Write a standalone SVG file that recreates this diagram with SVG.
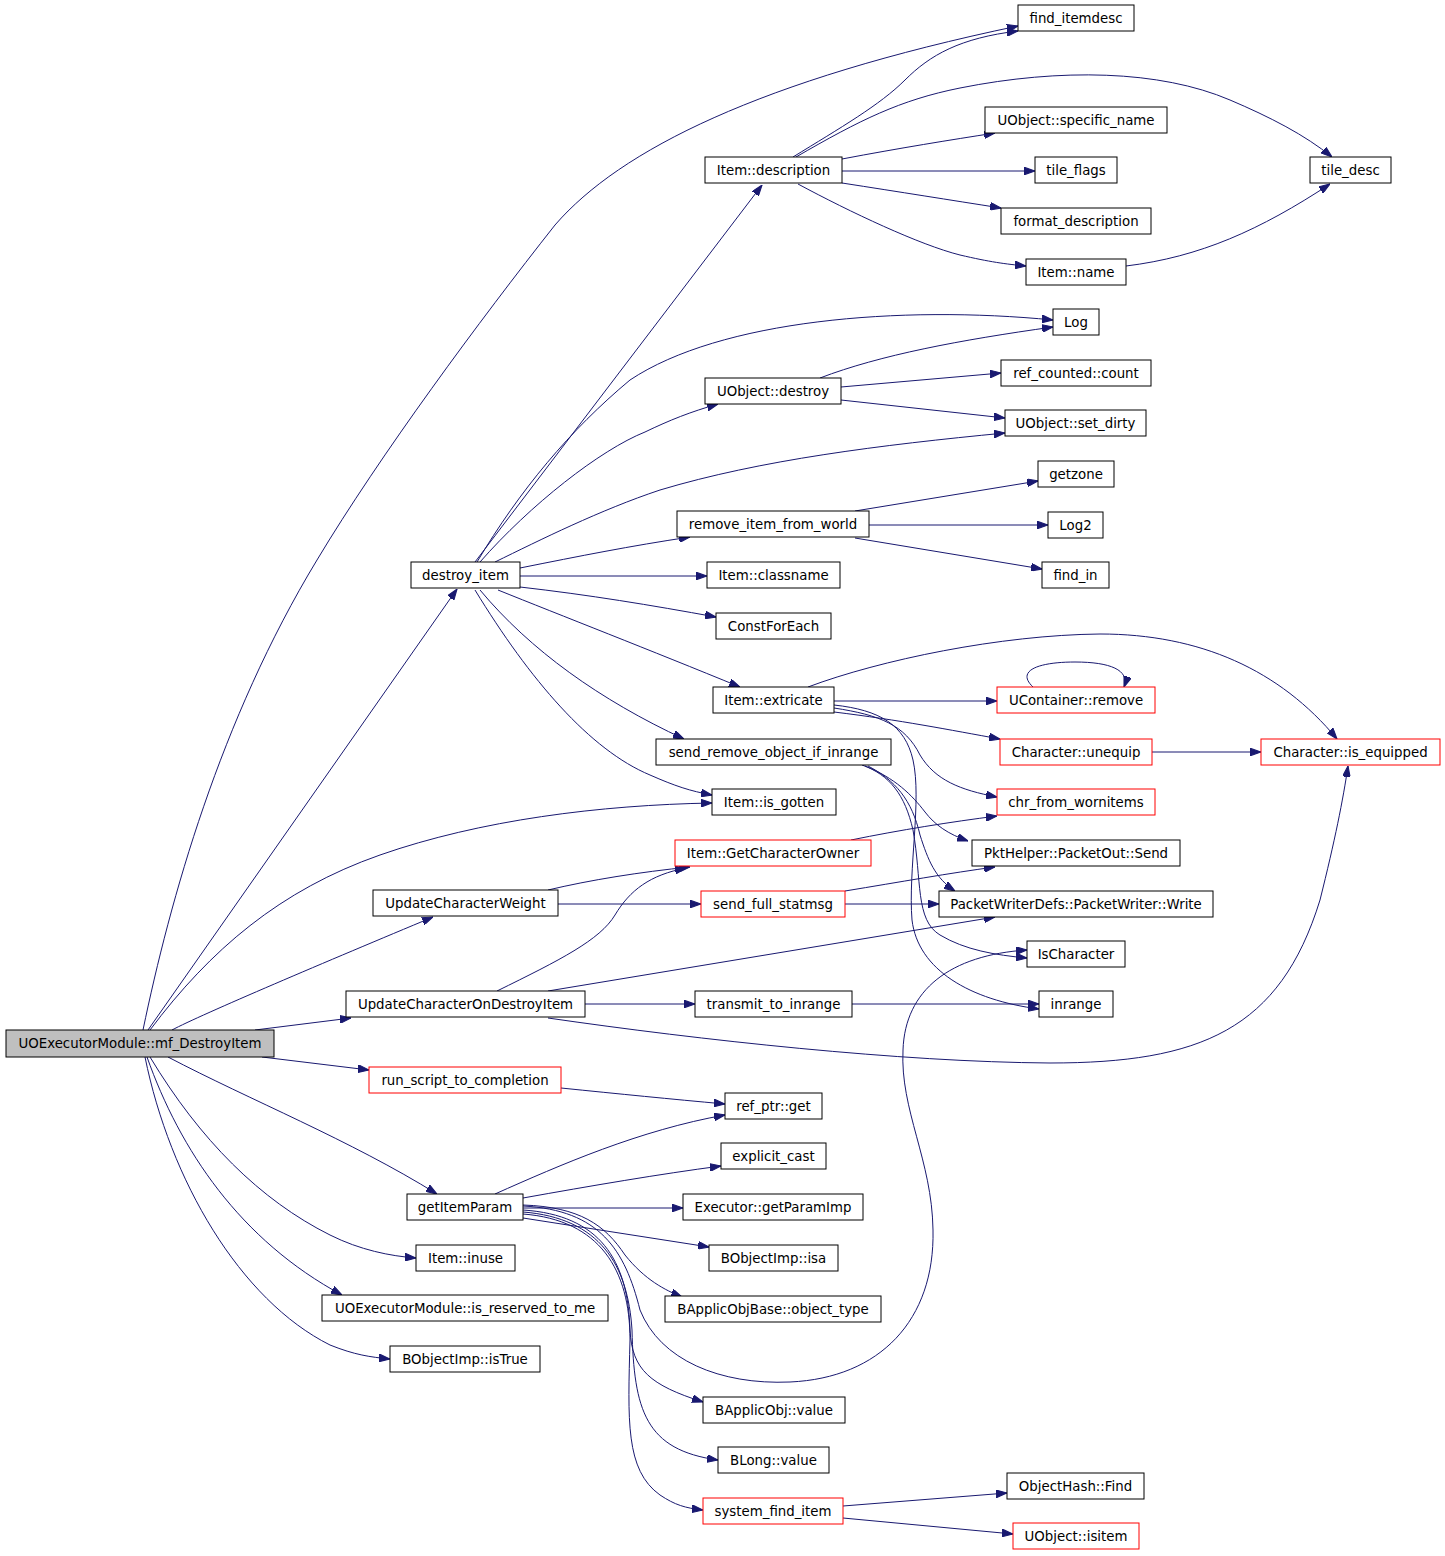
<svg xmlns="http://www.w3.org/2000/svg" width="1445" height="1556" viewBox="0 0 1445 1556">
<style>
.n rect{fill:#fff;stroke:#000;stroke-width:1}
.n.r rect{stroke:#f00}
.n.root rect{fill:#bfbfbf}
.n text{font-family:"DejaVu Sans","Liberation Sans",sans-serif;font-size:13.33px;fill:#000;text-anchor:middle}
.e path{fill:none;stroke:#191970;stroke-width:1;marker-end:url(#a)}
</style>
<defs>
<marker id="a" viewBox="0 0 10 7" refX="10" refY="3.5" markerWidth="11" markerHeight="8" markerUnits="userSpaceOnUse" orient="auto">
<path d="M0,0 L10,3.5 L0,7 z" fill="#191970" stroke="#191970"/>
</marker>
</defs>
<rect width="1445" height="1556" fill="#fff"/>
<g class="e" id="edges">
<path d="M143,1030 C170,900 220,720 317,560 C380,455 480,320 555,225 C620,150 760,80 1018,26"/>
<path d="M148,1030 L457,589"/>
<path d="M150,1030 C210,950 280,890 380,855 C480,820 600,805 712,803"/>
<path d="M172,1030 C200,1015 330,960 433,917"/>
<path d="M255,1030 L351,1018"/>
<path d="M262,1057 L369,1070"/>
<path d="M168,1057 C250,1100 350,1140 437,1194"/>
<path d="M150,1057 C200,1140 260,1200 330,1235 C360,1250 390,1256 416,1258"/>
<path d="M147,1057 C180,1150 240,1240 342,1295"/>
<path d="M145,1057 C170,1180 240,1300 330,1345 C355,1355 370,1357 390,1359"/>
<path d="M475,562 L762,185"/>
<path d="M477,562 C520,490 570,430 630,380 C720,320 900,305 1053,320"/>
<path d="M480,562 C530,505 600,450 645,432 C670,420 690,412 718,404"/>
<path d="M495,562 C540,540 600,510 660,490 C760,460 880,445 1005,433"/>
<path d="M520,568 C580,556 630,546 690,537"/>
<path d="M520,576 L707,576"/>
<path d="M520,587 C590,595 650,605 716,617"/>
<path d="M498,590 C560,615 650,650 740,687"/>
<path d="M480,590 C530,650 600,700 684,739"/>
<path d="M475,590 C530,680 590,750 650,775 C675,786 690,791 712,795"/>
<path d="M793,157 C840,128 880,105 905,80 C930,55 960,38 1018,31"/>
<path d="M796,157 C860,120 900,100 960,88 C1060,68 1160,70 1230,100 C1270,117 1305,135 1332,157"/>
<path d="M842,159 C900,148 950,140 995,133"/>
<path d="M842,171 L1035,171"/>
<path d="M842,183 C900,192 950,200 1001,208"/>
<path d="M798,184 C850,212 920,245 960,255 C990,262 1005,264 1026,266"/>
<path d="M1126,266 C1200,257 1260,230 1330,184"/>
<path d="M820,378 C880,355 960,340 1053,327"/>
<path d="M841,387 L1001,373"/>
<path d="M841,400 L1005,418"/>
<path d="M855,511 L1038,481"/>
<path d="M869,525 L1048,525"/>
<path d="M855,538 L1042,569"/>
<path d="M808,687 C880,660 1000,635 1100,634 C1200,634 1280,670 1337,739"/>
<path d="M1033,687 C1015,670 1040,662 1075,662 C1110,662 1130,670 1124,687"/>
<path d="M834,701 L997,701"/>
<path d="M834,712 C900,720 950,730 1000,739"/>
<path d="M834,708 C880,715 905,725 920,755 C935,780 960,790 997,797"/>
<path d="M834,705 C880,710 905,725 913,760 C922,800 908,870 912,920 C918,970 970,1000 1039,1009"/>
<path d="M862,765 C890,775 905,795 913,830 C922,880 915,920 940,935 C965,950 995,955 1027,958"/>
<path d="M865,766 C895,778 912,795 925,812 C935,825 948,834 968,841"/>
<path d="M868,766 C895,780 912,800 920,835 C928,860 935,878 955,891"/>
<path d="M851,840 C900,830 950,822 997,816"/>
<path d="M548,890 C590,880 640,872 690,867"/>
<path d="M558,904 L701,904"/>
<path d="M845,891 C900,882 950,873 995,867"/>
<path d="M845,904 L939,904"/>
<path d="M497,991 C560,960 600,940 615,915 C630,890 650,875 686,868"/>
<path d="M548,991 L995,917"/>
<path d="M585,1004 L695,1004"/>
<path d="M548,1018 C700,1040 900,1062 1050,1063 C1200,1063 1280,1030 1320,900 C1335,840 1343,800 1348,766"/>
<path d="M852,1004 L1039,1004"/>
<path d="M561,1088 C620,1094 670,1099 725,1104"/>
<path d="M495,1194 C560,1165 640,1130 725,1115"/>
<path d="M523,1198 C590,1186 660,1174 721,1166"/>
<path d="M523,1208 L683,1208"/>
<path d="M523,1218 L709,1247"/>
<path d="M523,1205 C580,1207 605,1225 625,1255 C645,1280 665,1290 682,1297"/>
<path d="M523,1206 C600,1210 625,1250 640,1310 C660,1360 720,1385 790,1382 C880,1378 935,1320 933,1230 C932,1160 900,1110 903,1050 C905,990 950,955 1027,950"/>
<path d="M523,1210 C600,1215 628,1260 630,1330 C632,1370 650,1385 703,1402"/>
<path d="M523,1212 C600,1218 628,1265 632,1330 C634,1410 645,1450 718,1460"/>
<path d="M523,1214 C600,1220 630,1270 630,1340 C628,1420 625,1470 660,1495 C675,1505 685,1508 703,1510"/>
<path d="M843,1506 L1007,1493"/>
<path d="M843,1518 L1013,1534"/>
<path d="M1152,752 L1261,752"/>
</g>
<g class="n root" id="n_root"><rect x="6" y="1030" width="268" height="27"/><text x="140" y="1048">UOExecutorModule::mf_DestroyItem</text></g>
<g class="n" id="n_destroy_item"><rect x="411" y="562" width="109" height="26"/><text x="465.5" y="580">destroy_item</text></g>
<g class="n" id="n_ucw"><rect x="373" y="890" width="185" height="26"/><text x="465.5" y="908">UpdateCharacterWeight</text></g>
<g class="n" id="n_ucodi"><rect x="346" y="991" width="239" height="26"/><text x="465.5" y="1009">UpdateCharacterOnDestroyItem</text></g>
<g class="n r" id="n_rstc"><rect x="369" y="1067" width="192" height="26"/><text x="465" y="1085">run_script_to_completion</text></g>
<g class="n" id="n_getItemParam"><rect x="407" y="1194" width="116" height="26"/><text x="465" y="1212">getItemParam</text></g>
<g class="n" id="n_inuse"><rect x="416" y="1245" width="99" height="26"/><text x="465.5" y="1263">Item::inuse</text></g>
<g class="n" id="n_reserved"><rect x="322" y="1295" width="286" height="26"/><text x="465" y="1313">UOExecutorModule::is_reserved_to_me</text></g>
<g class="n" id="n_isTrue"><rect x="390" y="1346" width="150" height="26"/><text x="465" y="1364">BObjectImp::isTrue</text></g>
<g class="n" id="n_description"><rect x="705" y="157" width="137" height="26"/><text x="773.5" y="175">Item::description</text></g>
<g class="n" id="n_uodestroy"><rect x="705" y="378" width="136" height="26"/><text x="773" y="396">UObject::destroy</text></g>
<g class="n" id="n_rifw"><rect x="677" y="511" width="192" height="26"/><text x="773" y="529">remove_item_from_world</text></g>
<g class="n" id="n_classname"><rect x="707" y="562" width="133" height="26"/><text x="773.5" y="580">Item::classname</text></g>
<g class="n" id="n_cfe"><rect x="716" y="613" width="115" height="26"/><text x="773.5" y="631">ConstForEach</text></g>
<g class="n" id="n_extricate"><rect x="713" y="687" width="121" height="26"/><text x="773.5" y="705">Item::extricate</text></g>
<g class="n" id="n_sroii"><rect x="656" y="739" width="235" height="26"/><text x="773.5" y="757">send_remove_object_if_inrange</text></g>
<g class="n" id="n_isgotten"><rect x="712" y="789" width="124" height="26"/><text x="774" y="807">Item::is_gotten</text></g>
<g class="n r" id="n_gco"><rect x="675" y="840" width="196" height="26"/><text x="773" y="858">Item::GetCharacterOwner</text></g>
<g class="n r" id="n_sfs"><rect x="701" y="891" width="144" height="26"/><text x="773" y="909">send_full_statmsg</text></g>
<g class="n" id="n_tti"><rect x="695" y="991" width="157" height="26"/><text x="773.5" y="1009">transmit_to_inrange</text></g>
<g class="n" id="n_refget"><rect x="725" y="1093" width="97" height="26"/><text x="773.5" y="1111">ref_ptr::get</text></g>
<g class="n" id="n_ecast"><rect x="721" y="1143" width="105" height="26"/><text x="773.5" y="1161">explicit_cast</text></g>
<g class="n" id="n_gpi"><rect x="683" y="1194" width="180" height="26"/><text x="773" y="1212">Executor::getParamImp</text></g>
<g class="n" id="n_isa"><rect x="709" y="1245" width="129" height="26"/><text x="773.5" y="1263">BObjectImp::isa</text></g>
<g class="n" id="n_otype"><rect x="665" y="1296" width="216" height="26"/><text x="773" y="1314">BApplicObjBase::object_type</text></g>
<g class="n" id="n_baval"><rect x="703" y="1397" width="142" height="26"/><text x="774" y="1415">BApplicObj::value</text></g>
<g class="n" id="n_blval"><rect x="718" y="1447" width="111" height="26"/><text x="773.5" y="1465">BLong::value</text></g>
<g class="n r" id="n_sfi"><rect x="703" y="1498" width="140" height="26"/><text x="773" y="1516">system_find_item</text></g>
<g class="n" id="n_fid"><rect x="1018" y="5" width="116" height="26"/><text x="1076" y="23">find_itemdesc</text></g>
<g class="n" id="n_sname"><rect x="985" y="107" width="182" height="26"/><text x="1076" y="125">UObject::specific_name</text></g>
<g class="n" id="n_tflags"><rect x="1035" y="157" width="82" height="26"/><text x="1076" y="175">tile_flags</text></g>
<g class="n" id="n_fdesc"><rect x="1001" y="208" width="150" height="26"/><text x="1076" y="226">format_description</text></g>
<g class="n" id="n_iname"><rect x="1026" y="259" width="100" height="26"/><text x="1076" y="277">Item::name</text></g>
<g class="n" id="n_log"><rect x="1053" y="309" width="46" height="26"/><text x="1076" y="327">Log</text></g>
<g class="n" id="n_rcc"><rect x="1001" y="360" width="150" height="26"/><text x="1076" y="378">ref_counted::count</text></g>
<g class="n" id="n_setdirty"><rect x="1005" y="410" width="141" height="26"/><text x="1075.5" y="428">UObject::set_dirty</text></g>
<g class="n" id="n_getzone"><rect x="1038" y="461" width="76" height="26"/><text x="1076" y="479">getzone</text></g>
<g class="n" id="n_log2"><rect x="1048" y="512" width="55" height="26"/><text x="1075.5" y="530">Log2</text></g>
<g class="n" id="n_findin"><rect x="1042" y="562" width="67" height="26"/><text x="1075.5" y="580">find_in</text></g>
<g class="n r" id="n_ucrem"><rect x="997" y="687" width="158" height="26"/><text x="1076" y="705">UContainer::remove</text></g>
<g class="n r" id="n_unequip"><rect x="1000" y="739" width="152" height="26"/><text x="1076" y="757">Character::unequip</text></g>
<g class="n r" id="n_cfw"><rect x="997" y="789" width="158" height="26"/><text x="1076" y="807">chr_from_wornitems</text></g>
<g class="n" id="n_send"><rect x="972" y="840" width="208" height="26"/><text x="1076" y="858">PktHelper::PacketOut::Send</text></g>
<g class="n" id="n_write"><rect x="939" y="891" width="274" height="26"/><text x="1076" y="909">PacketWriterDefs::PacketWriter::Write</text></g>
<g class="n" id="n_ischar"><rect x="1027" y="941" width="98" height="26"/><text x="1076" y="959">IsCharacter</text></g>
<g class="n" id="n_inrange"><rect x="1039" y="991" width="74" height="26"/><text x="1076" y="1009">inrange</text></g>
<g class="n" id="n_ohfind"><rect x="1007" y="1473" width="137" height="26"/><text x="1075.5" y="1491">ObjectHash::Find</text></g>
<g class="n r" id="n_isitem"><rect x="1013" y="1523" width="126" height="26"/><text x="1076" y="1541">UObject::isitem</text></g>
<g class="n" id="n_tdesc"><rect x="1310" y="157" width="81" height="26"/><text x="1350.5" y="175">tile_desc</text></g>
<g class="n r" id="n_isequipped"><rect x="1261" y="739" width="179" height="26"/><text x="1350.5" y="757">Character::is_equipped</text></g>
</svg>
